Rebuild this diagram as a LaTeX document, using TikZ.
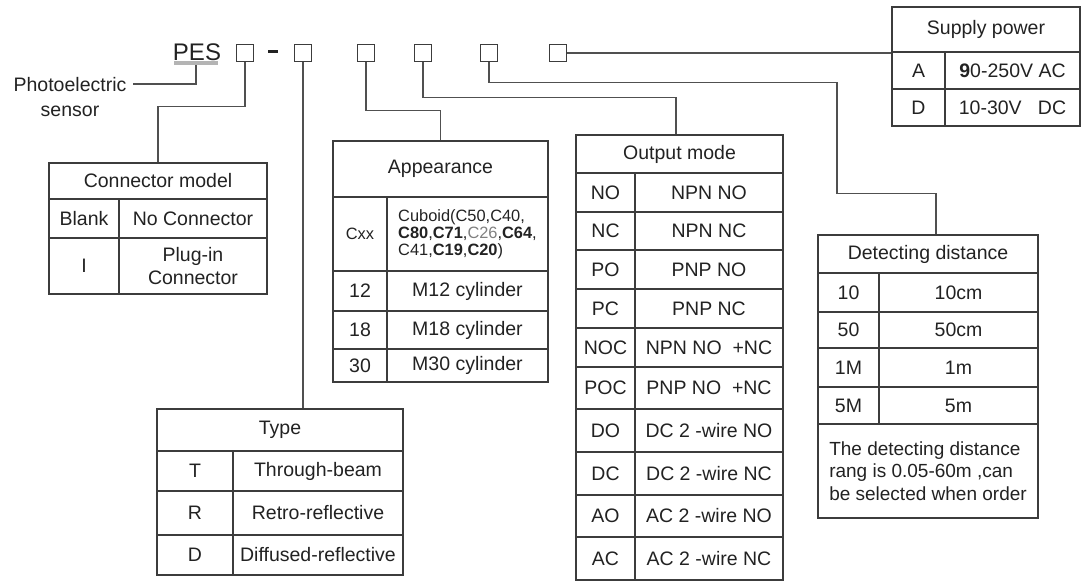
\documentclass[tikz,border=0pt]{standalone}
\usepackage{fontspec}
\setmainfont{Liberation Sans}
\usepackage{tikz}
\definecolor{ink}{HTML}{222222}
\definecolor{rule}{HTML}{3C3C3C}
\definecolor{wire}{HTML}{505050}
\definecolor{shade}{HTML}{B4B4B4}
\newcommand{\cellfont}{\fontsize{9.75}{11.5}\selectfont}
\newcommand{\smallcellfont}{\fontsize{8.2}{8.4}\selectfont}
\tikzset{
  cellbox/.style 2 args={
    rectangle, draw=rule, line width=0.8pt,
    minimum width=#1*0.5pt, minimum height=#2*0.5pt,
    inner sep=0pt, align=center, font=\cellfont, text=ink
  },
  slotbox/.style={
    rectangle, draw=rule, line width=0.7pt,
    minimum size=8.5pt, inner sep=0pt
  },
  wireline/.style={draw=wire, line width=0.75pt},
  labelnode/.style={font=\cellfont, text=ink, align=center, inner sep=0pt},
}

\begin{document}
\begin{tikzpicture}[x=0.5pt, y=-0.5pt]
  \useasboundingbox (0,0) rectangle (1085,583);

  % Model code
  \node[labelnode, font=\fontsize{12}{14}\selectfont] (pes) at (197,52.5) {PES};
  \node[rectangle, fill=shade, minimum width=22pt, minimum height=2pt, inner sep=0pt] (pesbar) at (196,63) {};
  \node[slotbox] (b1) at (245,53) {};
  \node[rectangle, fill=ink, minimum width=5pt, minimum height=1.5pt, inner sep=0pt] (dash) at (273,52) {};
  \node[slotbox] (b2) at (303,53) {};
  \node[slotbox] (b3) at (366,53) {};
  \node[slotbox] (b4) at (423,53) {};
  \node[slotbox] (b5) at (489,53) {};
  \node[slotbox] (b6) at (558,53) {};

  \node[labelnode] (photo) at (70,97.5) {Photoelectric\\[1pt]sensor};
  \coordinate (photoend) at (133,84);

  % Connector model
  \node[cellbox={218}{36}] (connHead) at (158,181) {Connector model};
  \node[cellbox={70}{39}] (connK1) at (84,218.5) {Blank};
  \node[cellbox={148}{39}] (connV1) at (193,218.5) {No Connector};
  \node[cellbox={70}{56}] (connK2) at (84,266) {I};
  \node[cellbox={148}{56}] (connV2) at (193,266) {Plug-in\\Connector};

  % Type
  \node[cellbox={246}{42}] (typeHead) at (280,430) {Type};
  \node[cellbox={76}{40}] (typeK1) at (195,471) {T};
  \node[cellbox={170}{40}] (typeV1) at (318,471) {Through-beam};
  \node[cellbox={76}{44}] (typeK2) at (195,513) {R};
  \node[cellbox={170}{44}] (typeV2) at (318,513) {Retro-reflective};
  \node[cellbox={76}{40}] (typeK3) at (195,555) {D};
  \node[cellbox={170}{40}] (typeV3) at (318,555) {Diffused-reflective};

  % Appearance
  \node[cellbox={215}{56}] (appHead) at (440.5,169) {Appearance};
  \node[cellbox={54}{74}, font=\smallcellfont] (appK1) at (360,234) {Cxx};
  \node[cellbox={161}{74}, font=\smallcellfont, align=left] (appV1) at (467.5,234)
    {Cuboid(C50,C40,\\\textbf{C80},\textbf{C71},\textcolor{black!50}{C26},\textbf{C64},\\C41,\textbf{C19},\textbf{C20})};
  \node[cellbox={54}{40}] (appK2) at (360,291) {12};
  \node[cellbox={161}{40}] (appV2) at (467.5,291) {M12 cylinder};
  \node[cellbox={54}{38}] (appK3) at (360,330) {18};
  \node[cellbox={161}{38}] (appV3) at (467.5,330) {M18 cylinder};
  \node[cellbox={54}{33}] (appK4) at (360,365.5) {30};
  \node[cellbox={161}{33}] (appV4) at (467.5,365.5) {M30 cylinder};

  % Output mode
  \node[cellbox={207}{38}] (outHead) at (679.5,154) {Output mode};
  \node[cellbox={59}{39}] (outK1) at (605.5,192.5) {NO};
  \node[cellbox={148}{39}] (outV1) at (709,192.5) {NPN NO};
  \node[cellbox={59}{38}] (outK2) at (605.5,231) {NC};
  \node[cellbox={148}{38}] (outV2) at (709,231) {NPN NC};
  \node[cellbox={59}{39}] (outK3) at (605.5,269.5) {PO};
  \node[cellbox={148}{39}] (outV3) at (709,269.5) {PNP NO};
  \node[cellbox={59}{39}] (outK4) at (605.5,308.5) {PC};
  \node[cellbox={148}{39}] (outV4) at (709,308.5) {PNP NC};
  \node[cellbox={59}{39}] (outK5) at (605.5,347.5) {NOC};
  \node[cellbox={148}{39}] (outV5) at (709,347.5) {NPN NO\ \ +NC};
  \node[cellbox={59}{42}] (outK6) at (605.5,388) {POC};
  \node[cellbox={148}{42}] (outV6) at (709,388) {PNP NO\ \ +NC};
  \node[cellbox={59}{43}] (outK7) at (605.5,430.5) {DO};
  \node[cellbox={148}{43}] (outV7) at (709,430.5) {DC 2 -wire NO};
  \node[cellbox={59}{43}] (outK8) at (605.5,473.5) {DC};
  \node[cellbox={148}{43}] (outV8) at (709,473.5) {DC 2 -wire NC};
  \node[cellbox={59}{42}] (outK9) at (605.5,516) {AO};
  \node[cellbox={148}{42}] (outV9) at (709,516) {AC 2 -wire NO};
  \node[cellbox={59}{43}] (outK10) at (605.5,558.5) {AC};
  \node[cellbox={148}{43}] (outV10) at (709,558.5) {AC 2 -wire NC};

  % Detecting distance
  \node[cellbox={220}{38}] (detHead) at (928,254) {Detecting distance};
  \node[cellbox={61}{39}] (detK1) at (848.5,292.5) {10};
  \node[cellbox={159}{39}] (detV1) at (958.5,292.5) {10cm};
  \node[cellbox={61}{36}] (detK2) at (848.5,330) {50};
  \node[cellbox={159}{36}] (detV2) at (958.5,330) {50cm};
  \node[cellbox={61}{39}] (detK3) at (848.5,367.5) {1M};
  \node[cellbox={159}{39}] (detV3) at (958.5,367.5) {1m};
  \node[cellbox={61}{37}] (detK4) at (848.5,405.5) {5M};
  \node[cellbox={159}{37}] (detV4) at (958.5,405.5) {5m};
  \node[cellbox={220}{94}, align=left, font=\fontsize{9.5}{11.25}\selectfont] (detNote) at (928,471)
    {The detecting distance\\rang is 0.05-60m ,can\\be selected when order};

  % Supply power
  \node[cellbox={188}{45}] (supHead) at (986,29.5) {Supply power};
  \node[cellbox={53}{37}] (supK1) at (918.5,70.5) {A};
  \node[cellbox={135}{37}] (supV1) at (1012.5,70.5) {\textbf{9}0-250V AC};
  \node[cellbox={53}{37}] (supK2) at (918.5,107.5) {D};
  \node[cellbox={135}{37}] (supV2) at (1012.5,107.5) {10-30V\ \ \ DC};

  % Connectors
  \draw[wireline] (pesbar.south) |- (photoend);
  \draw[wireline] (b1.south) -- ++(0,44.5) -| (connHead.north);
  \draw[wireline] (b2.south) -- (b2.south |- typeHead.north);
  \draw[wireline] (b3.south) -- ++(0,48.5) -| (appHead.north);
  \draw[wireline] (b4.south) -- ++(0,35.5) -| ([xshift=-1.75pt]outHead.north);
  \draw[wireline] (b5.south) -- ++(0,20.5) -- ++(348,0) -- ++(0,111) -| ([xshift=4pt]detHead.north);
  \draw[wireline] (b6.east) -- (b6.east -| supHead.south west);
\end{tikzpicture}
\end{document}
